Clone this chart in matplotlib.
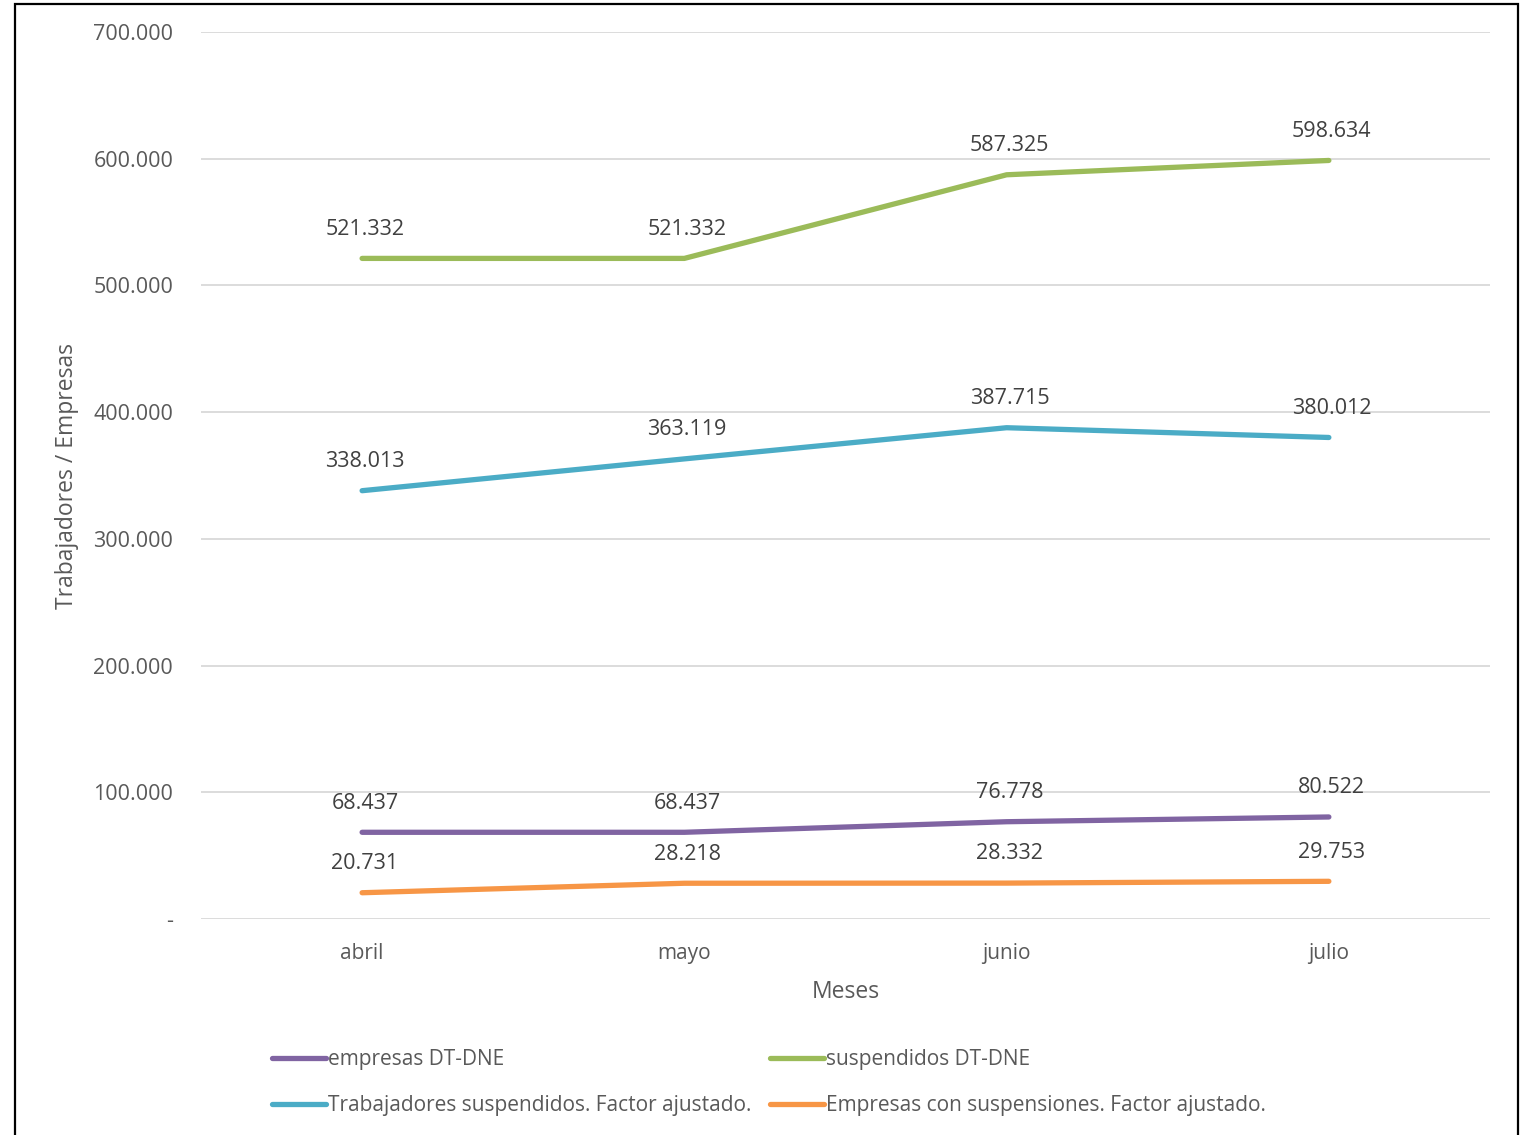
import matplotlib.pyplot as plt
from matplotlib.patches import Rectangle
from matplotlib.ticker import FuncFormatter

plt.rcParams["font.family"] = ["Open Sans", "DejaVu Sans"]

MESES = ["abril", "mayo", "junio", "julio"]
EMPRESAS_DT = [68437, 68437, 76778, 80522]
SUSPENDIDOS_DT = [521332, 521332, 587325, 598634]
TRABAJADORES_AJ = [338013, 363119, 387715, 380012]
EMPRESAS_AJ = [20731, 28218, 28332, 29753]

SERIES = [
    ("empresas DT-DNE", EMPRESAS_DT, "#8064A2"),
    ("suspendidos DT-DNE", SUSPENDIDOS_DT, "#9BBB59"),
    ("Trabajadores suspendidos. Factor ajustado.", TRABAJADORES_AJ, "#4BACC6"),
    ("Empresas con suspensiones. Factor ajustado.", EMPRESAS_AJ, "#F79646"),
]

GRAY = "#595959"


def miles(v, _pos=None):
    if v == 0:
        return "-"
    return f"{v:,.0f}".replace(",", ".")


def main():
    fig = plt.figure(figsize=(15.26, 11.35), dpi=100)
    ax = fig.add_axes([0.1317, 0.1903, 0.8447, 0.7815])

    x = list(range(len(MESES)))
    lines = []
    for name, vals, color in SERIES:
        (ln,) = ax.plot(x, vals, color=color, lw=3.8, solid_capstyle="round", label=name)
        lines.append(ln)
        for xi, v in zip(x, vals):
            ax.annotate(miles(v), (xi, v), xytext=(2, 21), textcoords="offset points",
                        ha="center", va="center", fontsize=15.5, color="#404040")

    ax.set_xlim(-0.5, 3.5)
    ax.set_ylim(0, 700000)
    ax.set_yticks(range(0, 700001, 100000))
    ax.yaxis.set_major_formatter(FuncFormatter(miles))
    ax.set_xticks(x)
    ax.set_xticklabels(MESES)
    ax.tick_params(length=0, labelcolor=GRAY)
    ax.tick_params(axis="y", pad=20, labelsize=15.5)
    ax.tick_params(axis="x", pad=17, labelsize=15)
    ax.grid(axis="y", color="#D9D9D9", lw=1.3)
    ax.set_axisbelow(True)
    for s in ax.spines.values():
        s.set_visible(False)

    ax.set_xlabel("Meses", fontsize=16.5, color=GRAY, labelpad=12)
    ax.set_ylabel("Trabajadores / Empresas", fontsize=16.5, color=GRAY, labelpad=10)

    # legend filled column-wise, so order to read row-wise
    order = [0, 2, 1, 3]
    leg = fig.legend([lines[i] for i in order], [SERIES[i][0] for i in order],
                     loc="center", bbox_to_anchor=(0.504, 0.0463), ncol=2, frameon=False,
                     fontsize=15, handlelength=2.6, handletextpad=0.1,
                     columnspacing=0.9, labelspacing=1.2)
    for t in leg.get_texts():
        t.set_color(GRAY)

    fig.patches.append(Rectangle((0.0098, -0.05), 0.985, 1.0465, transform=fig.transFigure,
                                 fill=False, edgecolor="black", lw=1.6))

    fig.savefig("out.png", dpi=100)


if __name__ == "__main__":
    main()
